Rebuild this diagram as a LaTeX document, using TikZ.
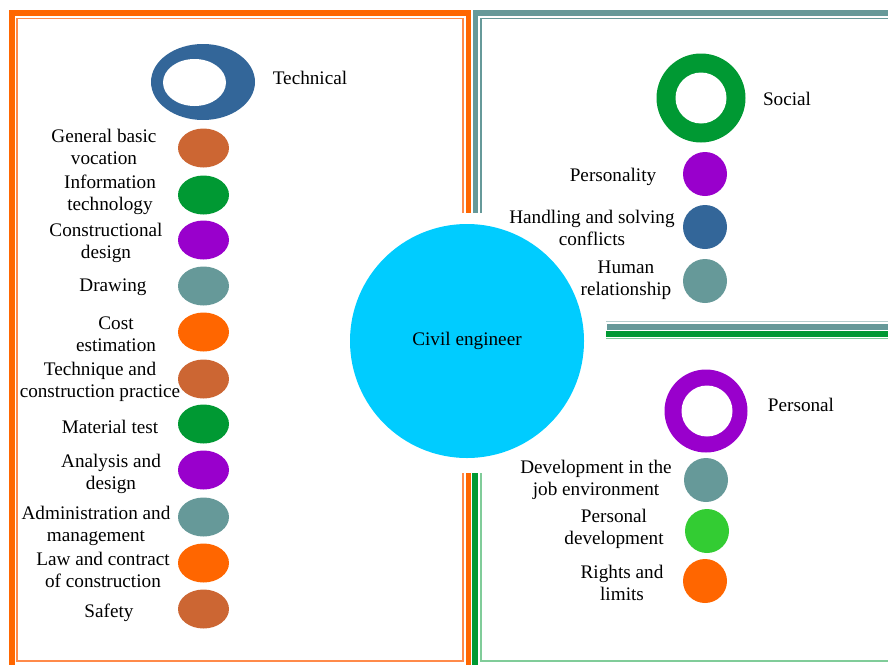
\documentclass[tikz,border=0pt]{standalone}
\usepackage{fontspec}
\setmainfont{Liberation Serif}
\newfontfamily\timesfont{Liberation Serif}
\usetikzlibrary{shapes.geometric}
\definecolor{cblue}{HTML}{336699}
\definecolor{cgreen}{HTML}{009933}
\definecolor{cpurple}{HTML}{9900CC}
\definecolor{cteal}{HTML}{669999}
\definecolor{corange}{HTML}{FF6600}
\definecolor{cbrown}{HTML}{CC6633}
\definecolor{clime}{HTML}{33CC33}
\definecolor{ccyan}{HTML}{00CCFF}
\definecolor{lorange}{HTML}{FF8A4A}
\definecolor{lteal}{HTML}{B3CCCC}
\definecolor{lgreen}{HTML}{80CC99}
\begin{document}
\begin{tikzpicture}[x=1pt,y=-1pt,
  lbl/.style={align=center,inner sep=0pt,font=\timesfont\fontsize{19.2}{22}\selectfont},
  edot/.style={ellipse,inner sep=0pt,minimum width=51pt,minimum height=39pt,fill=#1},
  cdot/.style={circle,inner sep=0pt,minimum size=44pt,fill=#1},
  thick frame/.style={line width=5.5pt,#1},
  thin frame/.style={line width=1.2pt,#1}]
\useasboundingbox (0,0) rectangle (888,664);
% frames
\draw[thick frame=corange] (12,666) -- (12,13) -- (468.5,13) -- (468.5,213);
\draw[thick frame=corange] (468.5,473) -- (468.5,666);
\draw[thin frame=lorange] (463,213) -- (463,18.5) -- (17,18.5) -- (17,661) -- (463,661) -- (463,473);
\draw[thick frame=cteal] (475.5,213) -- (475.5,13) -- (890,13);
\draw[thin frame=cteal] (481,213) -- (481,18.5) -- (890,18.5);
\draw[thin frame=lteal] (606,321.5) -- (890,321.5);
\draw[thick frame=cteal] (607,327) -- (890,327);
\draw[thick frame=cgreen] (606,334) -- (890,334);
\draw[thin frame=lgreen] (606,338.5) -- (890,338.5);
\draw[thick frame=cgreen] (475,473) -- (475,666);
\draw[thin frame=lgreen] (481,473) -- (481,661) -- (890,661);
% centre
\node[circle,fill=ccyan,minimum size=234pt,inner sep=0pt,font=\timesfont\fontsize{19.2}{22}\selectfont] (civil) at (467,341) {Civil engineer};
% Technical
\node[ellipse,fill=cblue,minimum width=104pt,minimum height=76pt,inner sep=0pt] (tech) at (203,82) {};
\node[ellipse,fill=white,minimum width=63pt,minimum height=47pt,inner sep=0pt] (techhole) at (194.5,82.5) {};
\node[lbl] (techl) at (310,78) {Technical};
\node[edot=cbrown] (t1) at (203.5,148) {};
\node[edot=cgreen] (t2) at (203.5,195) {};
\node[edot=cpurple] (t3) at (203.5,240) {};
\node[edot=cteal] (t4) at (203.5,286) {};
\node[edot=corange] (t5) at (203.5,332) {};
\node[edot=cbrown] (t6) at (203.5,379) {};
\node[edot=cgreen] (t7) at (203.5,424) {};
\node[edot=cpurple] (t8) at (203.5,470) {};
\node[edot=cteal] (t9) at (203.5,517) {};
\node[edot=corange] (t10) at (203.5,563) {};
\node[edot=cbrown] (t11) at (203.5,609) {};
\node[lbl] (tl1) at (104,147) {General basic\\vocation};
\node[lbl] (tl2) at (110,195) {Information\\technology};
\node[lbl] (tl3) at (106,243) {Constructional\\design};
\node[lbl] (tl4) at (113,287) {Drawing};
\node[lbl] (tl5) at (116,334) {Cost\\estimation};
\node[lbl] (tl6) at (100,382) {Technique and\\construction practice};
\node[lbl] (tl7) at (110,427) {Material test};
\node[lbl] (tl8) at (111,474) {Analysis and\\design};
\node[lbl] (tl9) at (96,526) {Administration and\\management};
\node[lbl] (tl10) at (103,570) {Law and contract\\of construction};
\node[lbl] (tl11) at (109,613) {Safety};
% Social
\node[circle,fill=cgreen,minimum size=89pt,inner sep=0pt] (soc) at (701,98) {};
\node[circle,fill=white,minimum size=51pt,inner sep=0pt] (sochole) at (701,98) {};
\node[lbl] (socl) at (787,99) {Social};
\node[cdot=cpurple] (s1) at (705,174) {};
\node[cdot=cblue] (s2) at (705,227) {};
\node[cdot=cteal] (s3) at (705,281) {};
\node[lbl] (sl1) at (613,177) {Personality};
\node[lbl] (sl2) at (592,228) {Handling and solving\\conflicts};
\node[lbl] (sl3) at (626,280) {Human\\relationship};
% Personal
\node[circle,fill=cpurple,minimum size=83pt,inner sep=0pt] (per) at (706,411) {};
\node[circle,fill=white,minimum size=51pt,inner sep=0pt] (perhole) at (707,411) {};
\node[lbl] (perl) at (801,405) {Personal};
\node[cdot=cteal] (p1) at (706,480) {};
\node[cdot=clime] (p2) at (707,531) {};
\node[cdot=corange] (p3) at (705,581) {};
\node[lbl] (pl1) at (596,480) {Development in the\\job environment};
\node[lbl] (pl2) at (614,529) {Personal\\development};
\node[lbl] (pl3) at (622,583) {Rights and\\limits};
\end{tikzpicture}
\end{document}
